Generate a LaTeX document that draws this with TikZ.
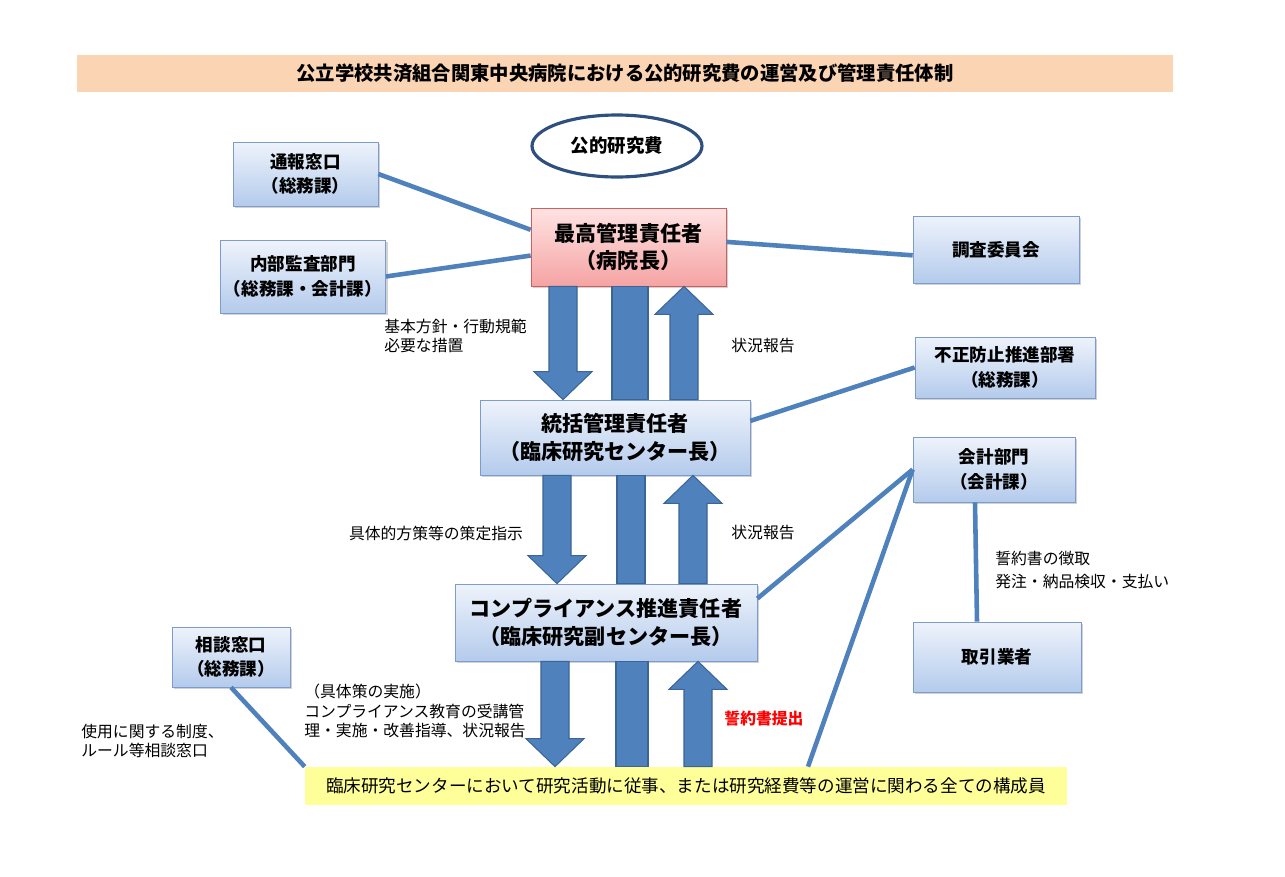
\documentclass[tikz,border=0pt]{standalone}
\usepackage{fontspec}
\setmainfont{Noto Sans CJK JP}
\usepackage{tikz}
\usetikzlibrary{positioning,calc,shapes.geometric,shadows}
\definecolor{linkblue}{HTML}{4F81BD}
\definecolor{arrowedge}{HTML}{3A6596}
\definecolor{boxtop}{HTML}{EEF3FB}
\definecolor{boxbot}{HTML}{B4CBEC}
\definecolor{boxedge}{HTML}{7D9CCB}
\definecolor{redtop}{HTML}{FFE3E3}
\definecolor{redbot}{HTML}{F5A3A3}
\definecolor{rededge}{HTML}{C9625F}
\definecolor{titlefill}{HTML}{FBD4B4}
\definecolor{memberfill}{HTML}{FFFF99}
\definecolor{ovaledge}{HTML}{2F4F7F}
\tikzset{
  unitbox/.style={draw=boxedge, top color=boxtop, bottom color=boxbot, align=center, inner sep=2pt,
    font=\fontsize{10}{14}\selectfont\bfseries, drop shadow={shadow xshift=1.2pt, shadow yshift=-1.2pt, opacity=.35}},
  chainbox/.style={unitbox, font=\fontsize{12}{15.5}\selectfont\bfseries},
  headbox/.style={chainbox, draw=rededge, top color=redtop, bottom color=redbot},
  fundoval/.style={ellipse, draw=ovaledge, line width=1.8pt, fill=white, minimum width=3.4cm, minimum height=1.24cm, font=\fontsize{10.5}{12}\selectfont\bfseries},
  link/.style={draw=linkblue, line width=2.6pt},
  bigarrow/.style={fill=linkblue, draw=arrowedge, line width=0.6pt},
  note/.style={font=\fontsize{9}{11}\selectfont, align=left, inner sep=0pt}
}

\begin{document}
\begin{tikzpicture}[x=0.02cm, y=-0.02cm]
  \path[fill=white] (0,0) rectangle (1285,876);
  \useasboundingbox (0,0) rectangle (1285,876);

  \node[fill=titlefill, minimum width=21.92cm, minimum height=0.74cm, font=\fontsize{11}{13}\selectfont\bfseries] (title) at (625,73.5)
    {公立学校共済組合関東中央病院における公的研究費の運営及び管理責任体制};
  \node[fundoval] (fund) at (617,146) {公的研究費};

  \node[headbox, minimum width=3.9cm, minimum height=1.56cm] (saiko) at (628.5,247) {最高管理責任者\\（病院長）};
  \node[chainbox, minimum width=5.4cm, minimum height=1.5cm] (tokatsu) at (615,437.5) {統括管理責任者\\（臨床研究センター長）};
  \node[chainbox, minimum width=6.04cm, minimum height=1.54cm] (comp) at (606,622.5) {コンプライアンス推進責任者\\（臨床研究副センター長）};
  \node[fill=memberfill, minimum width=15.24cm, minimum height=0.76cm, font=\fontsize{10}{12}\selectfont] (member) at (686,786)
    {臨床研究センターにおいて研究活動に従事、または研究経費等の運営に関わる全ての構成員};

  \node[unitbox, minimum width=2.9cm, minimum height=1.28cm] (tsuho) at (305.5,174) {通報窓口\\（総務課）};
  \node[unitbox, minimum width=3.24cm, minimum height=1.46cm] (kansa) at (303,276.5) {内部監査部門\\（総務課・会計課）};
  \node[unitbox, minimum width=3.32cm, minimum height=1.34cm] (chosa) at (996,249.5) {調査委員会};
  \node[unitbox, minimum width=3.6cm, minimum height=1.22cm] (fusei) at (1005,367.5) {不正防止推進部署\\（総務課）};
  \node[unitbox, minimum width=3.24cm, minimum height=1.3cm] (kaikei) at (994,469.5) {会計部門\\（会計課）};
  \node[unitbox, minimum width=3.36cm, minimum height=1.4cm] (torihiki) at (997,657) {取引業者};
  \node[unitbox, minimum width=2.36cm, minimum height=1.2cm] (sodan) at (231,657) {相談窓口\\（総務課）};

  % links
  \draw[link] (tsuho.east) -- (saiko.170);
  \draw[link] (kansa.east) -- (saiko.185);
  \draw[link] (saiko.3) -- (chosa.184);
  \draw[link] (tokatsu.7) -- (fusei.west);
  \draw[link] (comp.9) -- (kaikei.west);
  \draw[link] ($(member.north)+(122,0)$) -- (kaikei.west);
  \draw[link] ($(kaikei.south)+(-19,0)$) -- ($(torihiki.north)+(-20,0)$);
  \draw[link] (sodan.south) -- (member.north west);

  % saiko <-> tokatsu
  \filldraw[bigarrow] ($(563,0 |- saiko.south)+(-14,0)$) -- ($(563,0 |- tokatsu.north)+(-14,-28)$) -- ++(-15,0)
    -- (563,0 |- tokatsu.north) -- ++(29,-28) -- ++(-15,0) -- ($(563,0 |- saiko.south)+(14,0)$) -- cycle;
  \filldraw[bigarrow] ($(630,0 |- saiko.south)+(-18,0)$) rectangle ($(630,0 |- tokatsu.north)+(18,0)$);
  \filldraw[bigarrow] ($(684,0 |- tokatsu.north)+(-14,0)$) -- ($(684,0 |- saiko.south)+(-14,28)$) -- ++(-15,0)
    -- (684,0 |- saiko.south) -- ++(29,28) -- ++(-15,0) -- ($(684,0 |- tokatsu.north)+(14,0)$) -- cycle;

  % tokatsu <-> comp
  \filldraw[bigarrow] ($(557,0 |- tokatsu.south)+(-14,0)$) -- ($(557,0 |- comp.north)+(-14,-28)$) -- ++(-15,0)
    -- (557,0 |- comp.north) -- ++(29,-28) -- ++(-15,0) -- ($(557,0 |- tokatsu.south)+(14,0)$) -- cycle;
  \filldraw[bigarrow] ($(631,0 |- tokatsu.south)+(-14,0)$) rectangle ($(631,0 |- comp.north)+(14,0)$);
  \filldraw[bigarrow] ($(693,0 |- comp.north)+(-14,0)$) -- ($(693,0 |- tokatsu.south)+(-14,28)$) -- ++(-15,0)
    -- (693,0 |- tokatsu.south) -- ++(29,28) -- ++(-15,0) -- ($(693,0 |- comp.north)+(14,0)$) -- cycle;

  % comp <-> member
  \filldraw[bigarrow] ($(555,0 |- comp.south)+(-14,0)$) -- ($(555,0 |- member.north)+(-14,-28)$) -- ++(-15,0)
    -- (555,0 |- member.north) -- ++(29,-28) -- ++(-15,0) -- ($(555,0 |- comp.south)+(14,0)$) -- cycle;
  \filldraw[bigarrow] ($(632,0 |- comp.south)+(-16,0)$) rectangle ($(632,0 |- member.north)+(16,0)$);
  \filldraw[bigarrow] ($(698,0 |- member.north)+(-14,0)$) -- ($(698,0 |- comp.south)+(-14,28)$) -- ++(-15,0)
    -- (698,0 |- comp.south) -- ++(29,28) -- ++(-15,0) -- ($(698,0 |- member.north)+(14,0)$) -- cycle;

  % notes
  \node[note, anchor=west] (policy) at (384,336) {基本方針・行動規範\\必要な措置};
  \node[note] (report1) at (763,346) {状況報告};
  \node[note] (order) at (436,533) {具体的方策等の策定指示};
  \node[note] (report2) at (763,533) {状況報告};
  \node[note, anchor=west] (practice) at (304,711) {（具体策の実施）\\コンプライアンス教育の受講管\\理・実施・改善指導、状況報告};
  \node[note, text=red, font=\fontsize{9}{11}\selectfont\bfseries] (pledge) at (764,718) {誓約書提出};
  \node[note, anchor=west] (consult) at (81,741) {使用に関する制度、\\ルール等相談窓口};
  \node[note, anchor=west, font=\fontsize{9}{13.5}\selectfont] (order2) at (995,570) {誓約書の徴取\\発注・納品検収・支払い};
\end{tikzpicture}
\end{document}
